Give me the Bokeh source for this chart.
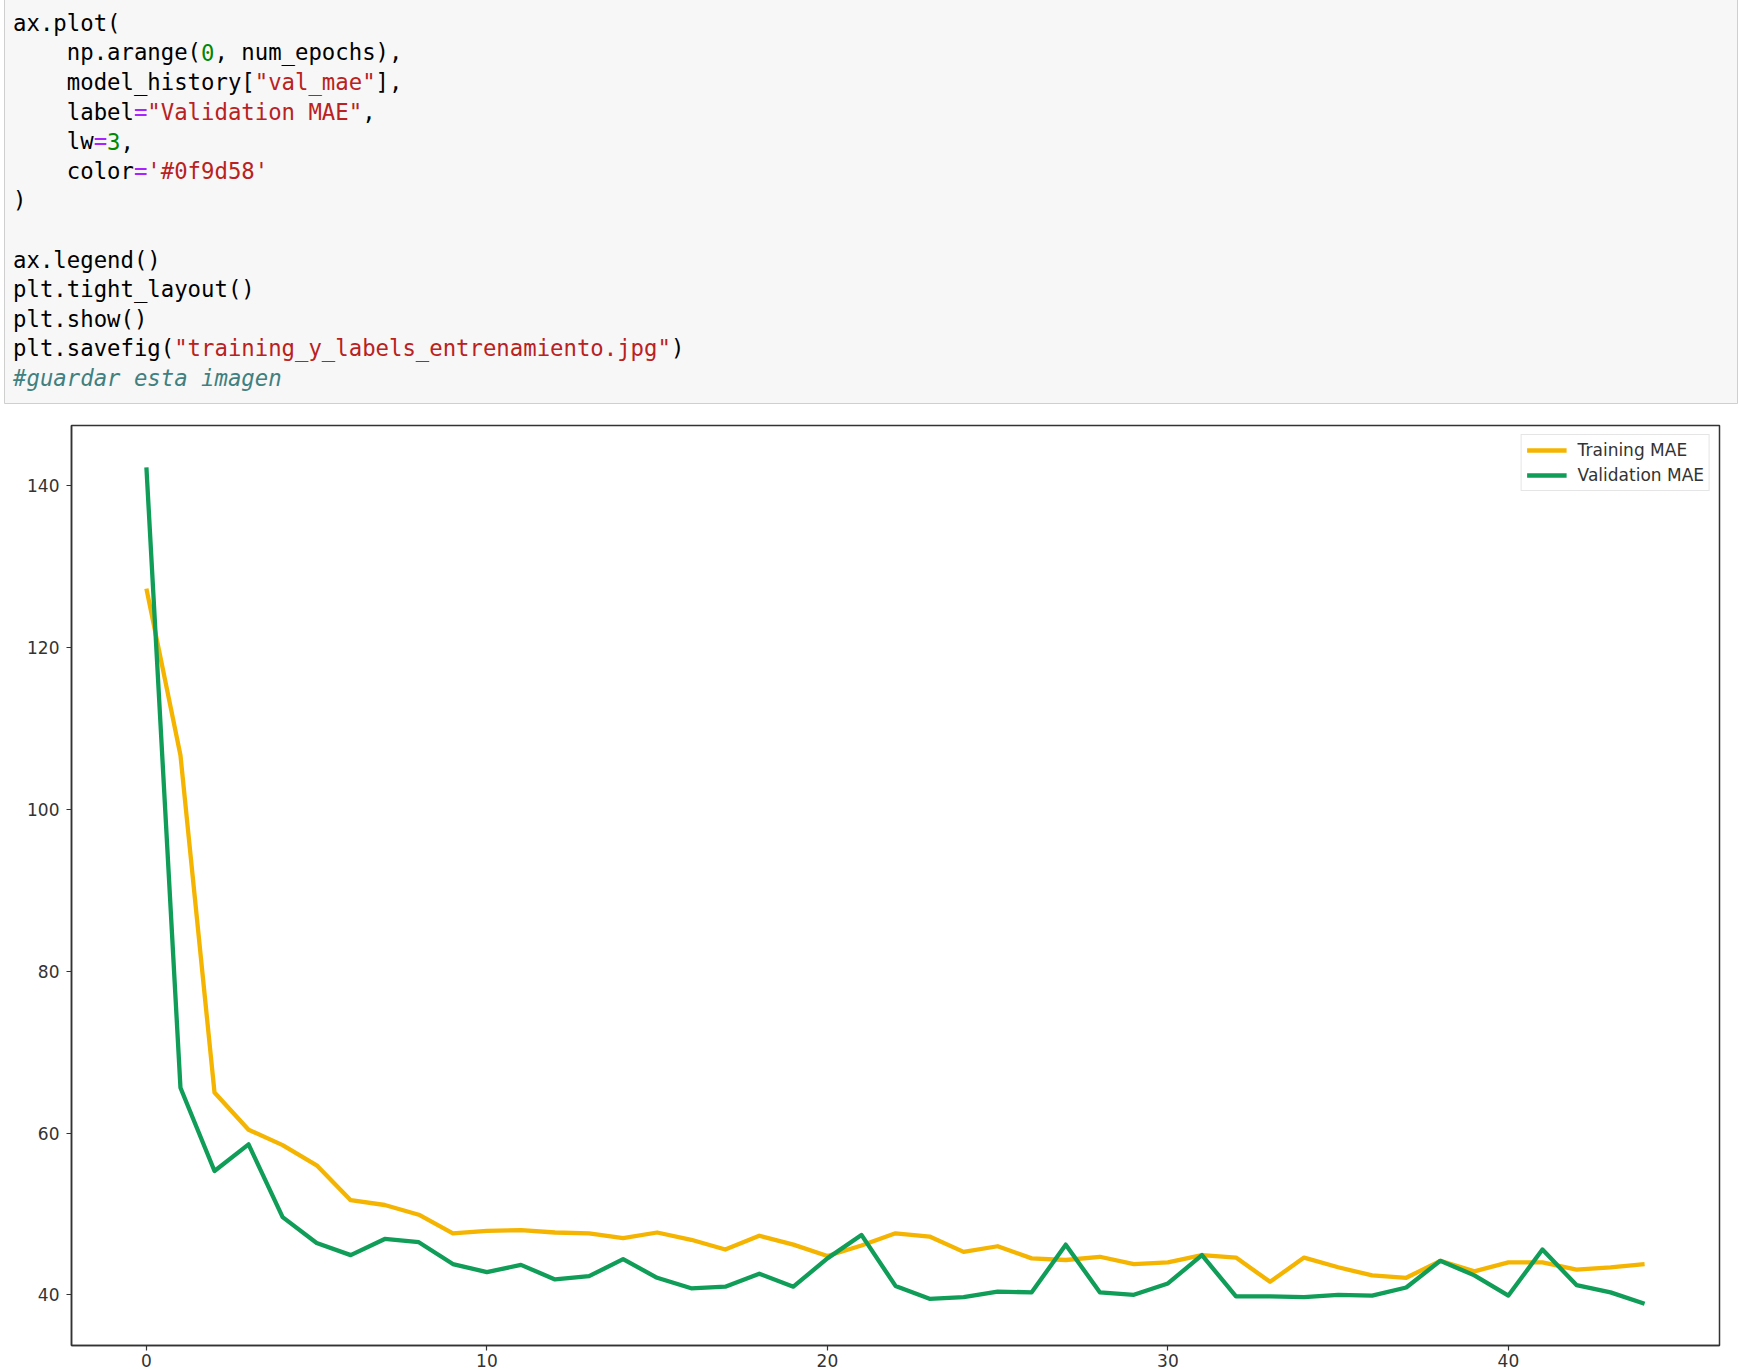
from bokeh.plotting import figure
from bokeh.models import ColumnDataSource, Range1d, SingleIntervalTicker
from bokeh.layouts import column
from bokeh.core.properties import value
from bokeh.embed import file_html
from bokeh.resources import INLINE

# ---------------- data ----------------
epochs = list(range(45))
train_mae = [127.3, 106.7, 65.0, 60.4, 58.5, 56.0, 51.7, 51.1, 49.9, 47.6,
             47.9, 48.0, 47.7, 47.6, 47.0, 47.7, 46.8, 45.6, 47.3, 46.2,
             44.8, 46.1, 47.6, 47.2, 45.3, 46.0, 44.5, 44.3, 44.7, 43.8,
             44.0, 44.9, 44.6, 41.6, 44.6, 43.4, 42.4, 42.1, 44.2, 42.9,
             44.0, 44.0, 43.1, 43.4, 43.8]
val_mae = [142.3, 65.6, 55.3, 58.6, 49.6, 46.4, 44.9, 46.9, 46.5, 43.8,
           42.8, 43.7, 41.9, 42.3, 44.4, 42.1, 40.8, 41.0, 42.6, 41.0,
           44.5, 47.4, 41.1, 39.5, 39.7, 40.4, 40.3, 46.2, 40.3, 40.0,
           41.4, 44.9, 39.8, 39.8, 39.7, 40.0, 39.9, 40.9, 44.2, 42.4,
           39.9, 45.6, 41.2, 40.3, 38.9]
series_labels = ["Training MAE", "Validation MAE"]
series_colors = ["#f4b400", "#0f9d58"]

code_lines = [
    'ax.plot(',
    '    np.arange(0, num_epochs),',
    '    model_history["val_mae"],',
    '    label="Validation MAE",',
    '    lw=3,',
    "    color='#0f9d58'",
    ')',
    '',
    'ax.legend()',
    'plt.tight_layout()',
    'plt.show()',
    'plt.savefig("training_y_labels_entrenamiento.jpg")',
    '#guardar esta imagen',
]
token_colors = {"txt": "#000000", "str": "#ba2121", "num": "#008800",
                "op": "#aa22ff", "com": "#408080"}


def tokenize(line):
    toks = []
    i = 0
    start = [None]

    def flush(end):
        if start[0] is not None:
            t = line[start[0]:end]
            lead = len(t) - len(t.lstrip(" "))
            t = t.strip(" ")
            if t:
                toks.append((start[0] + lead, t, "txt"))
            start[0] = None

    while i < len(line):
        c = line[i]
        if c == "#":
            flush(i)
            toks.append((i, line[i:], "com"))
            i = len(line)
            break
        if c in "\"'":
            j = line.index(c, i + 1)
            flush(i)
            toks.append((i, line[i:j + 1], "str"))
            i = j + 1
            continue
        if c == "=":
            flush(i)
            toks.append((i, "=", "op"))
            i += 1
            continue
        if c.isdigit() and (i == 0 or not (line[i - 1].isalnum() or line[i - 1] == "_")):
            j = i
            while j < len(line) and line[j].isdigit():
                j += 1
            flush(i)
            toks.append((i, line[i:j], "num"))
            i = j
            continue
        if start[0] is None:
            start[0] = i
        i += 1
    flush(len(line))
    return toks


cols, rows, texts, colors, kinds = [], [], [], [], []
for li, line in enumerate(code_lines):
    for col, t, k in tokenize(line):
        cols.append(col)
        rows.append(li)
        texts.append(t)
        colors.append(token_colors[k])
        kinds.append(k)

plain = [n for n in range(len(texts)) if kinds[n] != "com"]
comm = [n for n in range(len(texts)) if kinds[n] == "com"]
src_plain = ColumnDataSource(dict(x=[cols[n] for n in plain], y=[rows[n] for n in plain],
                                  t=[texts[n] for n in plain], c=[colors[n] for n in plain]))
src_comm = ColumnDataSource(dict(x=[cols[n] for n in comm], y=[rows[n] for n in comm],
                                 t=[texts[n] for n in comm], c=[colors[n] for n in comm]))

# ---------------- code cell ----------------
PAGE_W = 1740
PAGE_H = 1369
CODE_W = 1734
CODE_H = 406
FONT_PX = 22.3
cw = FONT_PX * 0.602   # px per character column (DejaVu Sans Mono advance)
pitch = 29.6           # px per code line
x0px = 8.6             # first column inside the cell
y0px = 24.2            # first line centre inside the cell

code = figure(width=CODE_W, height=CODE_H, output_backend="svg", toolbar_location=None,
              x_axis_type=None, y_axis_type=None,
              x_range=Range1d(-x0px / cw, (CODE_W - x0px) / cw),
              y_range=Range1d((CODE_H - y0px) / pitch, -y0px / pitch),
              min_border_left=0, min_border_right=0, min_border_top=0, min_border_bottom=0,
              frame_align=False)
code.margin = (-2, 2, 0, 4)
code.styles = {"flex-shrink": "0"}
code.grid.visible = False
code.outline_line_color = "#cfcfcf"
code.outline_line_width = 1
code.background_fill_color = "#f7f7f7"
code.border_fill_color = "#f7f7f7"
code.text(x="x", y="y", text="t", text_color="c", source=src_plain,
          text_font=value("DejaVu Sans Mono"), text_font_size=f"{FONT_PX}px",
          text_baseline="middle", text_align="left")
code.text(x="x", y="y", text="t", text_color="c", source=src_comm,
          text_font=value("DejaVu Sans Mono"), text_font_size=f"{FONT_PX}px",
          text_font_style="italic", text_baseline="middle", text_align="left")

# ---------------- chart ----------------
ymin = min(min(train_mae), min(val_mae))
ymax = max(max(train_mae), max(val_mae))
ypad = 0.05 * (ymax - ymin)
xpad = 0.05 * (epochs[-1] - epochs[0])

CHART_H = PAGE_H - (CODE_H - 2)

p = figure(width=PAGE_W, height=CHART_H, output_backend="svg", toolbar_location=None,
           x_range=Range1d(epochs[0] - xpad, epochs[-1] + xpad),
           y_range=Range1d(ymin - ypad, ymax + ypad),
           min_border_left=71, min_border_right=21, min_border_top=21, min_border_bottom=0,
           frame_align=False)
p.styles = {"flex-shrink": "0"}
p.grid.visible = False
p.outline_line_color = "#333333"
p.outline_line_width = 1.5
p.background_fill_color = "white"
p.border_fill_color = "white"

for ax in (p.xaxis, p.yaxis):
    ax.axis_line_color = "#333333"
    ax.axis_line_width = 1.5
    ax.major_tick_line_color = "#333333"
    ax.major_tick_line_width = 1.2
    ax.major_tick_out = 5
    ax.major_tick_in = 0
    ax.minor_tick_line_color = None
    ax.major_label_text_font = "DejaVu Sans"
    ax.major_label_text_font_size = "17px"
    ax.major_label_text_color = "#333333"
p.xaxis.ticker = SingleIntervalTicker(interval=10)
p.yaxis.ticker = SingleIntervalTicker(interval=20)
p.yaxis.major_label_standoff = 7
p.xaxis.major_label_standoff = 3

p.line(epochs, train_mae, line_width=4.3, color=series_colors[0], line_join="round",
       legend_label=series_labels[0])
p.line(epochs, val_mae, line_width=4.3, color=series_colors[1], line_join="round",
       legend_label=series_labels[1])

lg = p.legend[0]
lg.location = "top_right"
lg.margin = 9
lg.padding = 5
lg.spacing = 5
lg.glyph_width = 40
lg.glyph_height = 20
lg.label_height = 20
lg.label_standoff = 11
lg.label_text_font = "DejaVu Sans"
lg.label_text_font_size = "17px"
lg.label_text_color = "#333333"
lg.border_line_color = "#cccccc"
lg.border_line_width = 1
lg.background_fill_alpha = 0.8

layout = column(code, p, spacing=0, width=PAGE_W, height=PAGE_H, styles={"overflow": "hidden"})

open("out.html", "w").write(file_html(layout, INLINE))
